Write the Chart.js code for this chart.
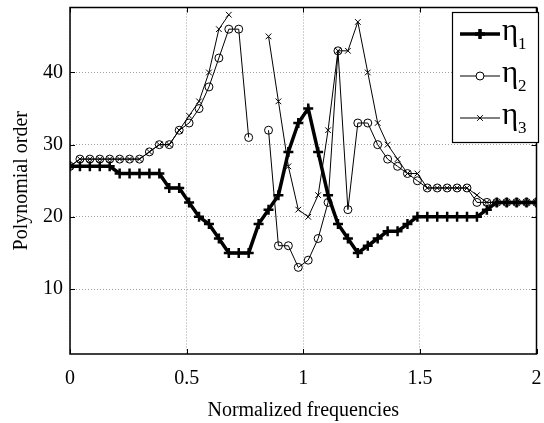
<!DOCTYPE html>
<html>
<head>
<meta charset="utf-8">
<script src="https://cdn.jsdelivr.net/npm/chart.js@4/dist/chart.umd.min.js"></script>
<style>
  html, body { margin: 0; padding: 0; background: #fff; }
  #wrap { width: 544px; height: 423px; }
</style>
</head>
<body>
<div id="wrap"><canvas id="orderChart" width="544" height="423"></canvas></div>
<script>
// normalized frequency of each sample (48 samples from 0 to 2)
const freqs = [
  0, 0.0426, 0.0851, 0.1277, 0.1702, 0.2128, 0.2553, 0.2979, 0.3404, 0.3830,
  0.4255, 0.4681, 0.5106, 0.5532, 0.5957, 0.6383, 0.6809, 0.7234, 0.7660, 0.8085,
  0.8511, 0.8936, 0.9362, 0.9787, 1.0213, 1.0638, 1.1064, 1.1489, 1.1915, 1.2340,
  1.2766, 1.3191, 1.3617, 1.4043, 1.4468, 1.4894, 1.5319, 1.5745, 1.6170, 1.6596,
  1.7021, 1.7447, 1.7872, 1.8298, 1.8723, 1.9149, 1.9574, 2,
];

const eta1 = [
  27, 27, 27, 27, 27, 26, 26, 26, 26, 26,
  24, 24, 22, 20, 19, 17, 15, 15, 15, 19,
  21, 23, 29, 33, 35, 29, 23, 19, 17, 15,
  16, 17, 18, 18, 19, 20, 20, 20, 20, 20,
  20, 20, 21, 22, 22, 22, 22, 22,
];

const eta2 = [
  27, 28, 28, 28, 28, 28, 28, 28, 29, 30,
  30, 32, 33, 35, 38, 42, 46, 46, 31, null,
  32, 16, 16, 13, 14, 17, 22, 43, 21, 33,
  33, 30, 28, 27, 26, 25, 24, 24, 24, 24,
  24, 22, 22, 22, 22, 22, 22, 22,
];

const eta3 = [
  27, 28, 28, 28, 28, 28, 28, 28, 29, 30,
  30, 32, 34, 36, 40, 46, 48, null, null, null,
  45, 36, 27, 21, 20, 23, 32, 43, 43, 47,
  40, 33, 30, 28, 26, 26, 24, 24, 24, 24,
  24, 23, 22, 22, 22, 22, 22, 22,
];

const seriesNames = ["1", "2", "3"]; // subscripts of eta
const xTicks = [0, 0.5, 1, 1.5, 2];
const yTicks = [10, 20, 30, 40];

const FONT = "'Liberation Serif', 'DejaVu Serif', serif";

function points(ys) {
  return ys.map((y, i) => ({ x: freqs[i], y: y }));
}

// frame, inward tick marks and the legend box
const framePlugin = {
  id: "frame",
  afterDatasetsDraw(chart) {
    const { ctx, chartArea: a, scales } = chart;
    ctx.save();
    ctx.strokeStyle = "#000";
    ctx.lineWidth = 1.5;
    ctx.strokeRect(a.left, a.top, a.right - a.left, a.bottom - a.top);
    ctx.lineWidth = 1;
    const t = 5;
    ctx.beginPath();
    xTicks.forEach((v) => {
      const x = Math.round(scales.x.getPixelForValue(v)) + 0.5;
      ctx.moveTo(x, a.bottom); ctx.lineTo(x, a.bottom - t);
      ctx.moveTo(x, a.top); ctx.lineTo(x, a.top + t);
    });
    yTicks.forEach((v) => {
      const y = Math.round(scales.y.getPixelForValue(v)) + 0.5;
      ctx.moveTo(a.left, y); ctx.lineTo(a.left + t, y);
      ctx.moveTo(a.right, y); ctx.lineTo(a.right - t, y);
    });
    ctx.stroke();
    ctx.restore();
  },
  afterDraw(chart) {
    const { ctx } = chart;
    const box = { x: 452, y: 12, w: 86, h: 130 };
    ctx.save();
    ctx.fillStyle = "#fff";
    ctx.fillRect(box.x, box.y, box.w, box.h);
    ctx.strokeStyle = "#000";
    ctx.lineWidth = 1.2;
    ctx.strokeRect(box.x + 0.5, box.y + 0.5, box.w, box.h);
    chart.data.datasets.forEach((ds, i) => {
      const y = 34 + i * 42;
      const x0 = 460, x1 = 500, xm = 480;
      ctx.strokeStyle = "#000";
      ctx.lineWidth = ds.borderWidth;
      ctx.beginPath();
      ctx.moveTo(x0, y); ctx.lineTo(x1, y);
      ctx.stroke();
      ctx.fillStyle = "#fff";
      Chart.helpers.drawPoint(ctx, {
        pointStyle: ds.pointStyle,
        radius: ds.pointRadius,
        borderWidth: ds.pointBorderWidth,
        rotation: 0,
      }, xm, y);
      ctx.fillStyle = "#000";
      ctx.textBaseline = "alphabetic";
      ctx.textAlign = "left";
      ctx.font = "31px " + FONT;
      ctx.fillText("\u03b7", 502, y + 6);
      ctx.font = "17px " + FONT;
      ctx.fillText(seriesNames[i], 518, y + 15);
    });
    ctx.restore();
  },
};

const common = {
  borderColor: "#000",
  pointBorderColor: "#000",
  backgroundColor: "rgba(0,0,0,0)",
  pointBackgroundColor: "rgba(0,0,0,0)",
  spanGaps: false,
  tension: 0,
  fill: false,
};

new Chart(document.getElementById("orderChart"), {
  type: "line",
  data: {
    datasets: [
      Object.assign({}, common, {
        label: "\u03b71",
        data: points(eta1),
        borderWidth: 3.5,
        pointStyle: "cross",
        pointRadius: 5,
        pointBorderWidth: 2.5,
      }),
      Object.assign({}, common, {
        label: "\u03b72",
        data: points(eta2),
        borderWidth: 1,
        pointStyle: "circle",
        pointRadius: 4,
        pointBorderWidth: 1,
      }),
      Object.assign({}, common, {
        label: "\u03b73",
        data: points(eta3),
        borderWidth: 1,
        pointStyle: "crossRot",
        pointRadius: 4,
        pointBorderWidth: 1,
      }),
    ],
  },
  options: {
    responsive: false,
    animation: false,
    events: [],
    layout: { padding: { top: 4, right: 4, left: 0, bottom: 0 } },
    plugins: { legend: { display: false }, tooltip: { enabled: false } },
    scales: {
      x: {
        type: "linear",
        min: 0,
        max: 2,
        afterBuildTicks: (s) => { s.ticks = xTicks.map((v) => ({ value: v })); },
        afterFit: (s) => { s.height = 69; s.paddingLeft = 0; s.paddingRight = 0; },
        grid: { color: "#a0a0a0", lineWidth: 1, drawTicks: false },
        border: { display: false, dash: [1, 2] },
        ticks: {
          color: "#000",
          font: { family: FONT, size: 20 },
          padding: 13,
          maxRotation: 0,
          callback: (v) => String(v),
        },
        title: {
          display: true,
          text: "Normalized frequencies",
          color: "#000",
          font: { family: FONT, size: 20 },
          padding: { top: 0, bottom: 0 },
        },
      },
      y: {
        min: 1,
        max: 49,
        afterBuildTicks: (s) => { s.ticks = yTicks.map((v) => ({ value: v })); },
        afterFit: (s) => { s.width = 70; s.paddingTop = 0; s.paddingBottom = 0; },
        grid: { color: "#a0a0a0", lineWidth: 1, drawTicks: false },
        border: { display: false, dash: [1, 2] },
        ticks: { color: "#000", font: { family: FONT, size: 20 }, padding: 7, callback: (v) => String(v) },
        title: {
          display: true,
          text: "Polynomial order",
          color: "#000",
          font: { family: FONT, size: 20 },
          padding: { top: 10, bottom: 0 },
        },
      },
    },
  },
  plugins: [framePlugin],
});
</script>
</body>
</html>
